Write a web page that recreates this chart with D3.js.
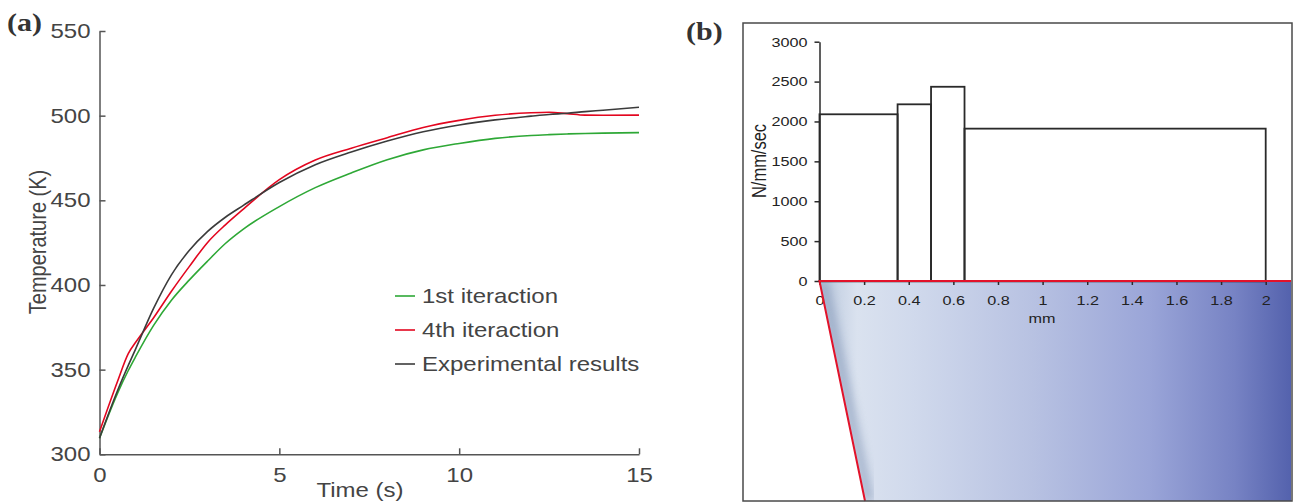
<!DOCTYPE html>
<html>
<head>
<meta charset="utf-8">
<script src="https://cdn.jsdelivr.net/npm/d3@7"></script>
<style>
body { margin: 0; background: #fff; }
svg { display: block; }
</style>
</head>
<body>
<div id="chart"></div>
<script>
// panel (a) - temperature vs time
var times        = [0, 0.5, 0.8, 1, 1.5, 2, 2.5, 3, 3.5, 4, 5, 6, 7, 8, 9, 10, 11, 12, 12.5, 13, 13.5, 14, 15]
var firstIter    = [309.5, 336, 349.5, 357.5, 376, 391, 403, 414, 424.5, 433, 446.3, 457.5, 466.2, 474, 479.8, 483.6, 486.6, 488.3, 488.8, 489.2, 489.5, 489.7, 490]
var fourthIter   = [313.3, 343, 359.5, 366, 380.5, 396.3, 411, 425, 435.5, 444.8, 462.2, 473.8, 480.8, 487, 493, 497.2, 500.2, 501.7, 502, 501.2, 500.3, 500.2, 500.3]
var experimental = [309.5, 337.5, 352.5, 362, 386, 406, 420.5, 431.5, 440, 447, 460.5, 471, 478.5, 485, 490.5, 494.5, 497.5, 499.7, 500.7, 501.4, 502.4, 503.2, 505]
var seriesNames  = ['1st iteraction', '4th iteraction', 'Experimental results']
var tempTicks = [300, 350, 400, 450, 500, 550]
var timeTicks = [0, 5, 10, 15]

// panel (b) - load along the contact (N/mm/sec vs mm)
var binEdges = [0, 0.35, 0.5, 0.65, 2]
var loads    = [2090, 2215, 2435, 1910]
var loadTicks = [0, 500, 1000, 1500, 2000, 2500, 3000]
var mmTicks  = [0, 0.2, 0.4, 0.6, 0.8, 1, 1.2, 1.4, 1.6, 1.8, 2]
var mmLabels = ['0', '0.2', '0.4', '0.6', '0.8', '1', '1.2', '1.4', '1.6', '1.8', '2']

var width = 1293, height = 502
var stretch = 1.2   // the picture's text is a bit wide

var svg = d3.select('#chart').append('svg')
    .attr('width', width)
    .attr('height', height)

function place(sel, x, y, rot) {
    sel.attr('transform', 'translate(' + x + ',' + y + ') scale(' + stretch + ',1)' + (rot ? ' rotate(' + rot + ')' : ''))
    return sel
}

// ---------- (a) ----------
var xA = d3.scaleLinear().domain([0, 15]).range([99.5, 639])
var yA = d3.scaleLinear().domain([300, 550]).range([454.3, 31])
var gA = svg.append('g').attr('font-family', 'Liberation Sans, Arial, sans-serif')

var axisColor = '#555'
var labelColor = '#444'

var yAxisA = gA.append('g')
    .attr('transform', 'translate(' + xA(0) + ',0)')
    .call(d3.axisLeft(yA).tickValues(tempTicks).tickSizeInner(-6).tickSizeOuter(0).tickPadding(9))
var xAxisA = gA.append('g')
    .attr('transform', 'translate(0,' + yA(300) + ')')
    .call(d3.axisBottom(xA).tickValues(timeTicks).tickSizeInner(-6).tickSizeOuter(0).tickPadding(14))

;[yAxisA, xAxisA].forEach(function (ax) {
    ax.attr('font-size', null).attr('font-family', null)
    ax.selectAll('path, line').attr('stroke', axisColor).attr('stroke-width', 1.5)
    ax.selectAll('text').attr('fill', labelColor).attr('font-size', 20)
})
yAxisA.selectAll('text').attr('x', -9 / stretch).attr('transform', 'scale(' + stretch + ',1)')
xAxisA.selectAll('text').attr('transform', 'scale(' + stretch + ',1)')

place(gA.append('text').text('Time (s)'), 360, 497)
    .attr('text-anchor', 'middle').attr('font-size', 20).attr('fill', labelColor)
place(gA.append('text').text('Temperature (K)'), 46, 242, -90)
    .attr('text-anchor', 'middle').attr('font-size', 20).attr('fill', labelColor)

var lineA = d3.line()
    .x(function (d) { return xA(d[0]) })
    .y(function (d) { return yA(d[1]) })
    .curve(d3.curveMonotoneX)

var series = [
    { name: seriesNames[0], values: firstIter, color: '#2ea836' },
    { name: seriesNames[1], values: fourthIter, color: '#e3061f' },
    { name: seriesNames[2], values: experimental, color: '#3b3b3b' }
]

gA.selectAll('path.curve')
    .data(series)
    .enter()
    .append('path')
    .attr('class', 'curve')
    .attr('fill', 'none')
    .attr('stroke', function (d) { return d.color })
    .attr('stroke-width', 1.6)
    .attr('d', function (d) { return lineA(times.map(function (t, i) { return [t, d.values[i]] })) })

// legend
var legY = [296, 330, 364]
var leg = gA.selectAll('g.leg')
    .data(series)
    .enter()
    .append('g')
    .attr('class', 'leg')
leg.append('line')
    .attr('x1', 395).attr('x2', 415)
    .attr('y1', function (d, i) { return legY[i] })
    .attr('y2', function (d, i) { return legY[i] })
    .attr('stroke', function (d) { return d.color })
    .attr('stroke-width', 1.6)
leg.append('text')
    .text(function (d) { return d.name })
    .attr('transform', function (d, i) { return 'translate(422,' + (legY[i] + 7) + ') scale(' + stretch + ',1)' })
    .attr('font-size', 20)
    .attr('fill', labelColor)

place(svg.append('text').text('(a)'), 7, 31)
    .attr('font-family', 'Liberation Serif, Times New Roman, serif')
    .attr('font-weight', 'bold').attr('font-size', 25).attr('fill', '#333')

// ---------- (b) ----------
var frame = { left: 743, top: 23, right: 1292, bottom: 501 }
var xB = d3.scaleLinear().domain([0, 2]).range([819.5, 1265.7])
var yB = d3.scaleLinear().domain([0, 3000]).range([281, 41.7])
var gB = svg.append('g').attr('font-family', 'Liberation Sans, Arial, sans-serif')

// blue shaded tool body below the contact line
var defs = svg.append('defs')
var grad = defs.append('linearGradient').attr('id', 'tool').attr('x1', 0).attr('x2', 1).attr('y1', 0).attr('y2', 0)
var stops = [[0, '#b9c7dc'], [0.08, '#dae2ef'], [0.2, '#d0d9ec'], [0.45, '#b8c2e2'], [0.7, '#9aa5d8'], [0.88, '#7783c4'], [1, '#5462ad']]
grad.selectAll('stop').data(stops).enter().append('stop')
    .attr('offset', function (d) { return d[0] })
    .attr('stop-color', function (d) { return d[1] })
defs.append('filter').attr('id', 'soft').append('feGaussianBlur').attr('stdDeviation', 4)

var slantX = xB(0.204)   // where the flank meets the bottom of the frame
var toolPts = [[xB(0), yB(0)], [frame.right - 1, yB(0)], [frame.right - 1, frame.bottom], [slantX, frame.bottom]]
defs.append('clipPath').attr('id', 'toolClip').append('polygon').attr('points', toolPts.join(' '))
gB.append('polygon').attr('points', toolPts.join(' ')).attr('fill', 'url(#tool)')
gB.append('line')
    .attr('clip-path', 'url(#toolClip)')
    .attr('x1', xB(0) + 4).attr('y1', yB(0)).attr('x2', slantX + 4).attr('y2', frame.bottom)
    .attr('stroke', '#7f93b4').attr('stroke-width', 10).attr('opacity', 0.55)
    .attr('filter', 'url(#soft)')

// bars
gB.selectAll('rect.bar')
    .data(loads)
    .enter()
    .append('rect')
    .attr('class', 'bar')
    .attr('x', function (d, i) { return xB(binEdges[i]) })
    .attr('y', function (d) { return yB(d) })
    .attr('width', function (d, i) { return xB(binEdges[i + 1]) - xB(binEdges[i]) })
    .attr('height', function (d) { return yB(0) - yB(d) })
    .attr('fill', 'none')
    .attr('stroke', '#2a2a2a')
    .attr('stroke-width', 1.8)

var yAxisB = gB.append('g')
    .attr('transform', 'translate(' + xB(0) + ',0)')
    .call(d3.axisLeft(yB).tickValues(loadTicks).tickFormat(d3.format('d')).tickSize(5).tickSizeOuter(0).tickPadding(7))
var xAxisB = gB.append('g')
    .attr('transform', 'translate(0,' + yB(0) + ')')
    .call(d3.axisBottom(xB).tickValues(mmTicks).tickFormat(function (d, i) { return mmLabels[i] }).tickSize(4).tickSizeOuter(0).tickPadding(10))

;[yAxisB, xAxisB].forEach(function (ax) {
    ax.attr('font-size', null).attr('font-family', null)
    ax.selectAll('path, line').attr('stroke', '#2a2a2a').attr('stroke-width', 1.5)
    ax.selectAll('text').attr('fill', '#222').attr('font-size', 13.5)
})
yAxisB.selectAll('text').attr('x', -12 / stretch).attr('transform', 'scale(' + stretch + ',1)')
xAxisB.selectAll('text').attr('transform', 'scale(' + stretch + ',1)')

// red contact line and tool flank
gB.append('path')
    .attr('d', 'M' + (frame.right - 1) + ',' + yB(0) + 'L' + xB(0) + ',' + yB(0) + 'L' + slantX + ',' + frame.bottom)
    .attr('fill', 'none')
    .attr('stroke', '#e2122a')
    .attr('stroke-width', 2)

place(gB.append('text').text('mm'), 1042, 323)
    .attr('text-anchor', 'middle').attr('font-size', 13.5).attr('fill', '#222')
place(gB.append('text').text('N/mm/sec'), 766, 161, -90)
    .attr('text-anchor', 'middle').attr('font-size', 16.5).attr('fill', '#222')

gB.append('rect')
    .attr('x', frame.left).attr('y', frame.top)
    .attr('width', frame.right - frame.left).attr('height', frame.bottom - frame.top)
    .attr('fill', 'none').attr('stroke', '#4a4a4a').attr('stroke-width', 1.5)

place(svg.append('text').text('(b)'), 686, 40)
    .attr('font-family', 'Liberation Serif, Times New Roman, serif')
    .attr('font-weight', 'bold').attr('font-size', 25).attr('fill', '#333')
</script>
</body>
</html>
